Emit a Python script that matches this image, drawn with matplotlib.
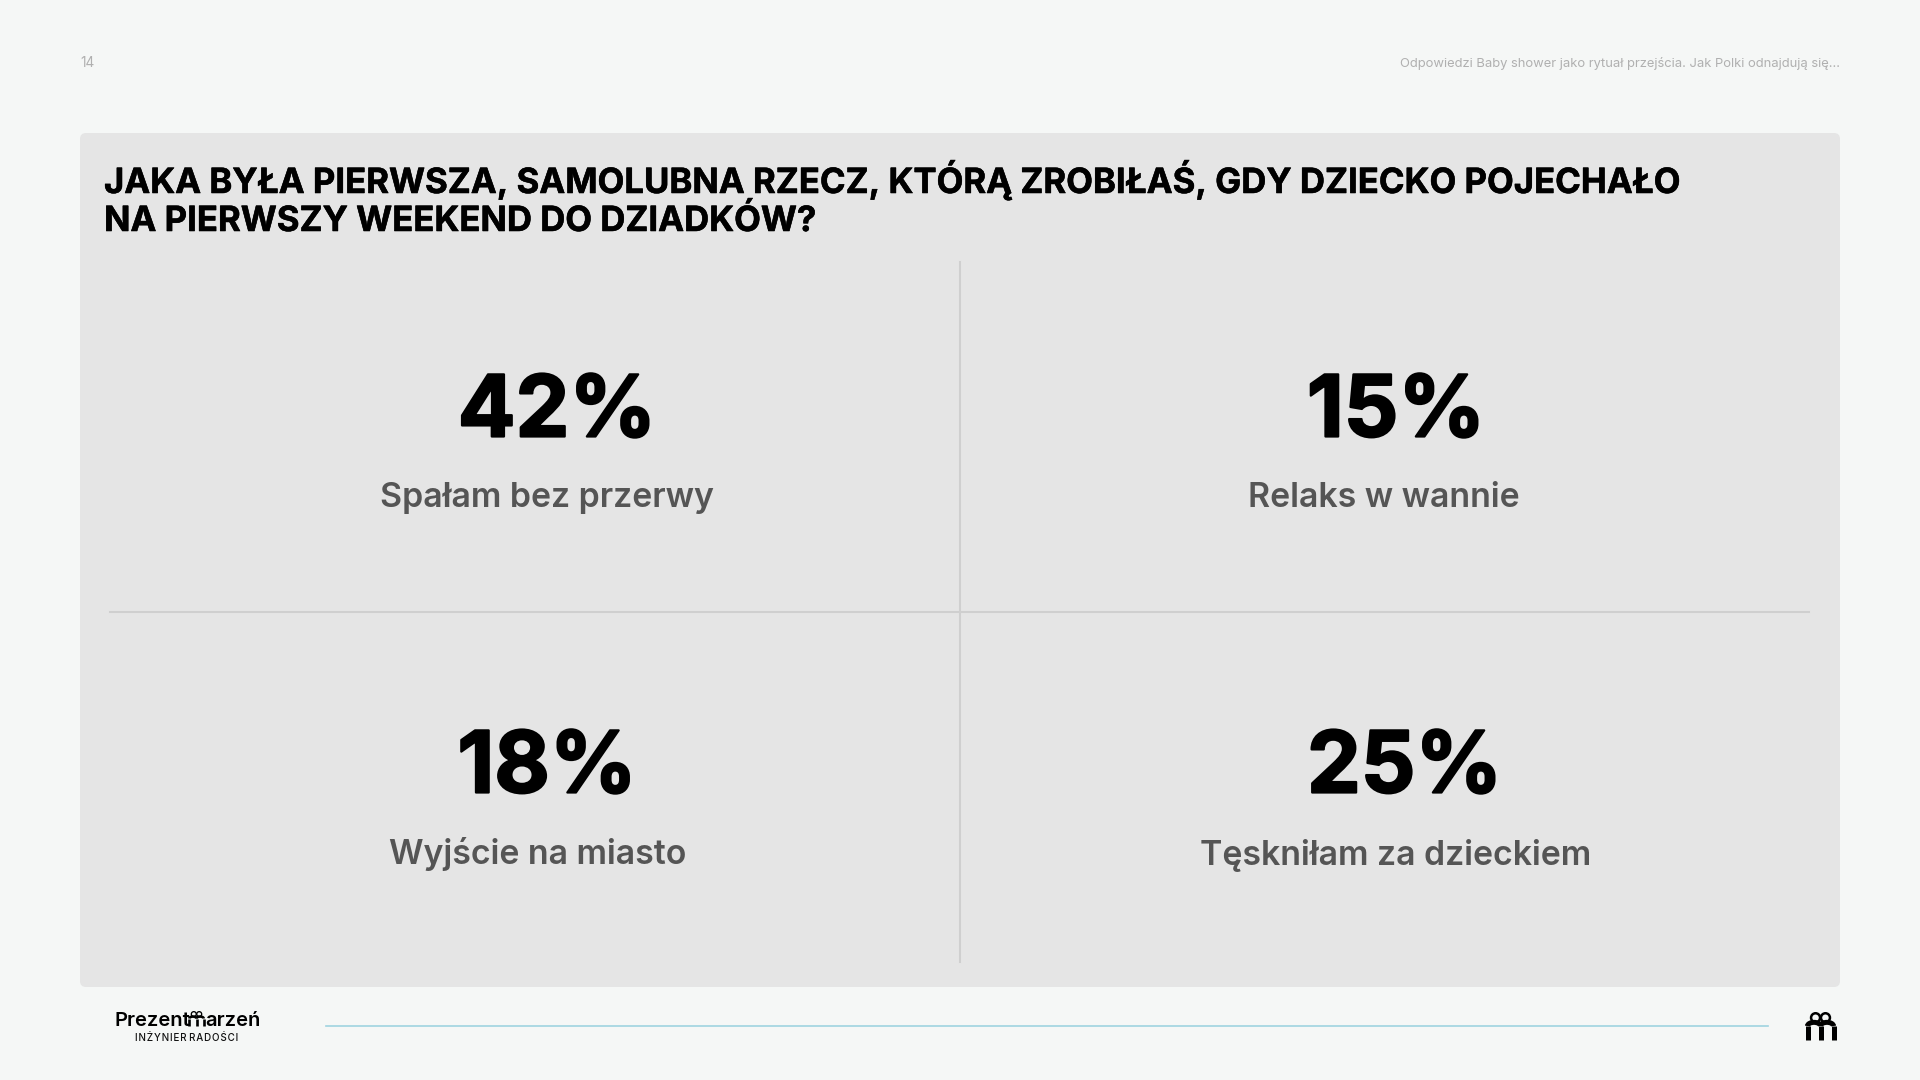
import matplotlib
matplotlib.use('Agg')
import matplotlib.pyplot as plt
import matplotlib.patheffects as pe
from matplotlib.patches import FancyBboxPatch, Arc, Circle

# dane ze slajdu
page_number = '14'
header_text = 'Odpowiedzi Baby shower jako rytuał przejścia. Jak Polki odnajdują się...'
title_lines = ['JAKA BYŁA PIERWSZA, SAMOLUBNA RZECZ, KTÓRĄ ZROBIŁAŚ, GDY DZIECKO POJECHAŁO',
               'NA PIERWSZY WEEKEND DO DZIADKÓW?']
percents = ['42%', '15%', '18%', '25%']
answers = ['Spałam bez przerwy', 'Relaks w wannie', 'Wyjście na miasto', 'Tęskniłam za dzieckiem']

# srodki tekstow w pikselach
percent_x = [557, 1396, 547, 1404.5]
answer_x = [547, 1384, 538, 1396]
percent_y = [414, 414, 770, 770]
answer_y = [497.5, 498, 854, 855]

plt.rcParams['font.family'] = ['Inter', 'DejaVu Sans']

fig = plt.figure(figsize=(19.2, 10.8), dpi=100, facecolor='#f5f7f6')
ax = fig.add_axes([0, 0, 1, 1])
ax.set_xlim(0, 1920)
ax.set_ylim(1080, 0)
ax.axis('off')

# panel
ax.add_patch(FancyBboxPatch((84, 137), 1752, 846, boxstyle='round,pad=4,rounding_size=6',
                            fc='#e5e5e5', ec='none'))

# naglowek
ax.text(80, 63, page_number, fontsize=9.8, color='#b0b0b0', va='center', ha='left')
ax.text(1840, 63, header_text, fontsize=9.35, color='#b0b0b0', va='center', ha='right')

# tytul (troche pogrubiony obrysem)
title_fx = [pe.withStroke(linewidth=0.4, foreground='#000000')]
ax.text(104, 180, title_lines[0], fontsize=25, fontweight='bold', color='#000000', va='center', path_effects=title_fx)
ax.text(104, 221.5, title_lines[1], fontsize=25, fontweight='bold', color='#000000', va='center', path_effects=title_fx)

# siatka
ax.plot([960, 960], [262, 962], color='#cfcfcf', lw=1.5)
ax.plot([110, 1809], [612, 612], color='#cfcfcf', lw=1.5)

num_fx = [pe.withStroke(linewidth=1.6, foreground='#000000')]
for i in range(4):
    ax.text(percent_x[i], percent_y[i], percents[i], fontsize=61.5, fontweight='bold', color='#000000',
            ha='center', va='center', path_effects=num_fx)
    ax.text(answer_x[i], answer_y[i], answers[i], fontsize=24.4, fontweight='semibold', color='#555555',
            ha='center', va='center')

# stopka
ax.plot([326, 1768], [1025.5, 1025.5], color='#9fd3e0', lw=1.2)
ax.text(114, 1026, 'Prezent', fontsize=14.5, fontweight='semibold', color='#000000', va='baseline')
ax.text(205, 1026, 'arzeń', fontsize=14.5, fontweight='semibold', color='#000000', va='baseline')
ax.text(186.5, 1041, 'I N Ż Y N I E R   R A D O Ś C I'.replace(' ', '\u200a'), fontsize=7.1, fontweight='medium',
        color='#111111', ha='center', va='baseline')


def draw_icon(x0, y0, w, h, lw):
    # litera m z kokardka
    top = y0 + h * 0.5
    bottom = y0 + h
    half = lw * 0.5 * 100 / 72
    left = x0 + half
    right = x0 + w - half
    mid = x0 + w / 2
    for sx in (left, mid, right):
        ax.plot([sx, sx], [top, bottom], color='#000000', lw=lw, solid_capstyle='butt')
    ax.add_patch(Arc(((left + mid) / 2, top), mid - left, h * 0.26, theta1=180, theta2=360, ec='#000000', lw=lw))
    ax.add_patch(Arc(((mid + right) / 2, top), right - mid, h * 0.26, theta1=180, theta2=360, ec='#000000', lw=lw))
    # petle kokardki
    r = w * 0.145
    ax.add_patch(Circle((mid - r * 1.1, y0 + r + half * 0.5), r, fc='none', ec='#000000', lw=lw * 0.5))
    ax.add_patch(Circle((mid + r * 1.1, y0 + r + half * 0.5), r, fc='none', ec='#000000', lw=lw * 0.5))


draw_icon(1805, 1012, 31, 28, 3.6)
draw_icon(188, 1011, 17, 15, 1.9)

fig.savefig('out.png', dpi=100, facecolor=fig.get_facecolor())
